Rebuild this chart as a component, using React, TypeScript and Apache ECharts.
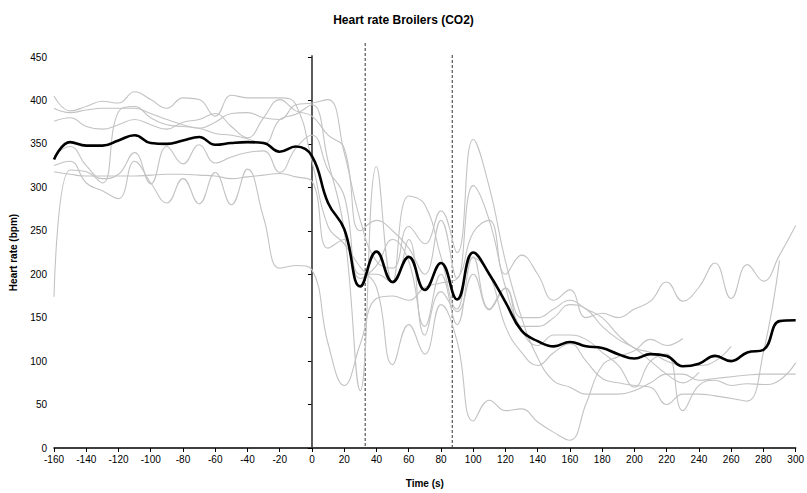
import React, { useEffect, useRef } from "react";
import * as echarts from "echarts";

const TIMES = [-160, -150, -140, -130, -120, -110, -100, -90, -80, -70, -60, -50, -40, -30, -20, -10, 0,
  10, 20, 30, 40, 50, 60, 70, 80, 90, 100, 110, 120, 130, 140, 150, 160, 170, 180, 190, 200,
  210, 220, 230, 240, 250, 260, 270, 280, 290, 300];

const G1 = [405, 388, 393, 399, 397, 410, 401, 391, 403, 401, 382, 406, 403, 403, 403, 395, 330,
  255, 235, 208, 185, 96, 142, 108, 165, 123, 31, 55, 43, 45, 30, 18, 9, 51, 95, 105, 112,
  125, 118, 126, null, null, null, null, null, null, null];
const G2 = [391, 386, 389, 391, 391, 391, 385, 378, 372, 368, 375, 385, 386, 380, 378, 395, 397,
  401, 340, 262, 215, 207, 255, 235, 273, 225, 355, 300, 215, 150, 104, 77, 70, 62, 62, 62, 66,
  75, 85, 85, 78, 80, 82, 84, 85, 85, 85];
const G3 = [376, 380, 370, 367, 372, 378, 372, 367, 375, 378, 385, 370, 357, 380, 401, 388, 382,
  360, 345, 250, 262, 250, 230, 200, 262, 195, 302, 262, 185, 136, 118, 130, 130, 125, 110, 95, 70,
  100, 108, 43, 72, 78, 72, 74, 73, 78, 98];
const G4 = [336, 347, 325, 310, 315, 340, 304, 347, 327, 349, 328, 335, 340, 342, 317, 345, 360,
  320, 290, 195, 210, 240, 215, 140, 200, 142, 220, 160, 184, 150, 150, 160, 170, 160, 150, 130, 115,
  110, 100, 95, 95, 100, 117, null, null, null, null];
const G5 = [325, 330, 305, 296, 287, 330, 305, 282, 310, 281, 317, 280, 321, 265, 207, 210, 205,
  120, 72, 120, 172, 175, 170, 185, 190, 195, 248, 262, 200, 222, 200, 170, 182, 150, 155, 150, 160,
  169, 191, 169, 185, 213, 172, 211, 192, 222, 256];
const G6 = [318, 315, 313, 313, 313, 313, 314, 315, 315, 314, 313, 310, 312, 314, 316, 312, 307,
  230, 240, 200, 200, 190, 240, 130, 180, 157, 200, 159, 184, 140, 140, 150, 165, 160, 140, 125, 115,
  100, 85, 75, 87, null, null, null, null, null, null];
const G7 = [174, 320, 318, 305, 387, 393, 380, 372, 370, 368, 362, 360, 356, 350, 378, 384, 395,
  330, 250, 66, 324, 190, 290, 280, 220, 160, 219, 200, 140, 110, 95, 110, 120, 100, 80, 75, 72,
  70, 50, 62, 62, 60, 57, 54, 110, 216, null];
const MEAN = [332, 352, 348, 348, 354, 360, 351, 350, 354, 358, 349, 351, 352, 351, 341, 347, 336,
  282, 252, 186, 226, 191, 220, 182, 213, 171, 225, 200, 168, 135, 123, 117, 122, 117, 115, 108, 103,
  108, 106, 94, 97, 106, 100, 110, 113, 146, 147];

const GRAY_SERIES = [G1, G2, G3, G4, G5, G6, G7];
const EVENT_SOLID = 0;
const EVENT_DASHED = [33, 87];

const FONT = "'Liberation Sans', Arial, sans-serif";

function pairs(vals: (number | null)[]) {
  return TIMES.map((t, i) => [t, vals[i]]);
}

export default function App() {
  const ref = useRef<HTMLDivElement>(null);
  useEffect(() => {
    if (!ref.current) return;
    const chart = echarts.init(ref.current, null, { renderer: "svg" });
    const series: any[] = GRAY_SERIES.map((g, i) => ({
      type: "line",
      name: "b" + (i + 1),
      data: pairs(g),
      smooth: 0.45,
      showSymbol: false,
      connectNulls: false,
      lineStyle: { color: "#c3c3c3", width: 1.1 },
      z: 2,
    }));
    series.push({
      type: "line",
      name: "mean",
      data: pairs(MEAN),
      smooth: 0.45,
      showSymbol: false,
      lineStyle: { color: "#000", width: 2.6 },
      z: 5,
    });
    chart.setOption({
      animation: false,
      backgroundColor: "#fff",
      title: {
        text: "Heart rate Broilers (CO2)",
        left: "center",
        top: 9,
        textStyle: { fontSize: 12, fontWeight: "bold", color: "#000", fontFamily: FONT },
      },
      grid: { left: 54, right: 6, top: 57, bottom: 42, containLabel: false },
      xAxis: {
        type: "value",
        min: -160,
        max: 300,
        interval: 20,
        name: "Time (s)",
        nameLocation: "middle",
        nameGap: 30,
        nameTextStyle: { fontSize: 10, fontWeight: "bold", color: "#000", fontFamily: FONT },
        axisLine: { show: true, lineStyle: { color: "#000", width: 1.5 } },
        axisTick: { show: true, length: 4, lineStyle: { color: "#000" } },
        axisLabel: { fontSize: 10, color: "#000", margin: 6, fontFamily: FONT },
        splitLine: { show: false },
      },
      yAxis: {
        type: "value",
        min: 0,
        max: 450,
        interval: 50,
        name: "Heart rate (bpm)",
        nameLocation: "middle",
        nameGap: 36,
        nameRotate: 90,
        nameTextStyle: { fontSize: 10, fontWeight: "bold", color: "#000", fontFamily: FONT },
        axisLine: { show: true, lineStyle: { color: "#808080", width: 2 } },
        axisTick: { show: true, length: 4, lineStyle: { color: "#000" } },
        axisLabel: { fontSize: 10, color: "#000", margin: 7, fontFamily: FONT },
        splitLine: { show: false },
      },
      series,
    });
    const yTop = chart.convertToPixel({ yAxisIndex: 0 }, 450) as number;
    const yBot = chart.convertToPixel({ yAxisIndex: 0 }, 0) as number;
    const x0 = chart.convertToPixel({ xAxisIndex: 0 }, EVENT_SOLID) as number;
    const xd1 = chart.convertToPixel({ xAxisIndex: 0 }, EVENT_DASHED[0]) as number;
    const xd2 = chart.convertToPixel({ xAxisIndex: 0 }, EVENT_DASHED[1]) as number;
    chart.setOption({
      graphic: [
        { type: "line", shape: { x1: x0, y1: yTop - 2, x2: x0, y2: yBot }, style: { stroke: "#444", lineWidth: 1.2 }, z: 1 },
        { type: "line", shape: { x1: xd1, y1: yTop - 14, x2: xd1, y2: yBot }, style: { stroke: "#333", lineWidth: 1, lineDash: [3, 2] }, z: 1 },
        { type: "line", shape: { x1: xd2, y1: yTop - 2, x2: xd2, y2: yBot }, style: { stroke: "#333", lineWidth: 1, lineDash: [3, 2] }, z: 1 },
      ],
    });
    return () => chart.dispose();
  }, []);
  return <div ref={ref} style={{ position: "fixed", left: 0, top: 0, width: 807, height: 493 }} />;
}
